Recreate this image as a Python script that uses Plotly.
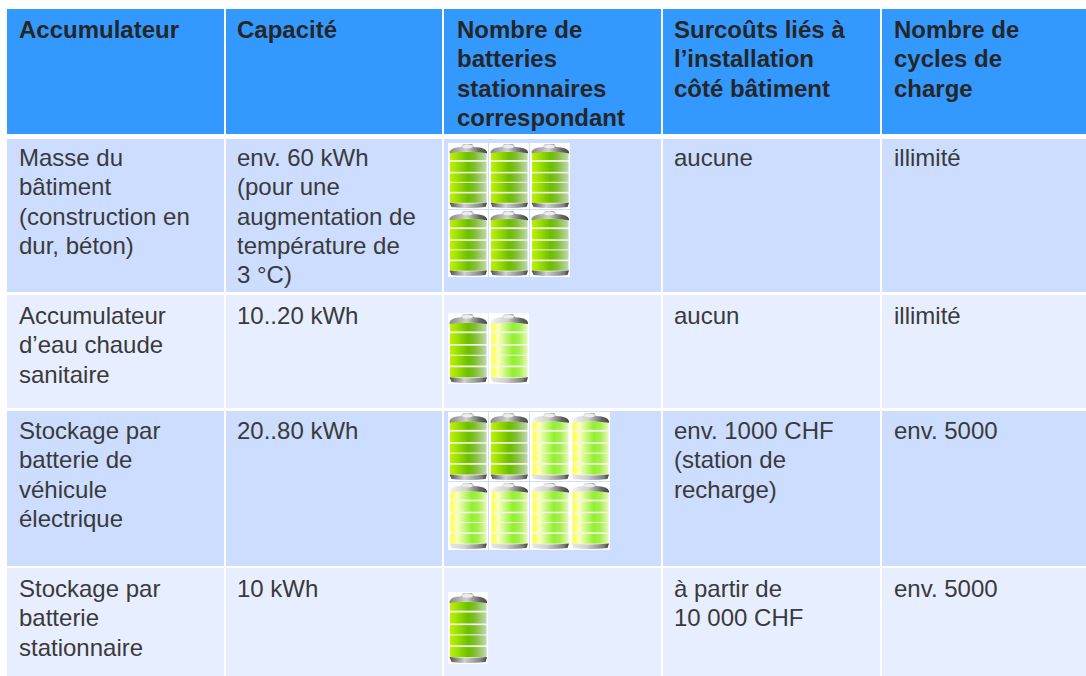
import base64
import plotly.graph_objects as go

# ---- table content ----
headers = [
    ["Accumulateur"],
    ["Capacité"],
    ["Nombre de", "batteries", "stationnaires", "correspondant"],
    ["Surcoûts liés à", "l’installation", "côté bâtiment"],
    ["Nombre de", "cycles de", "charge"],
]
col_accumulateur = [
    ["Masse du", "bâtiment", "(construction en", "dur, béton)"],
    ["Accumulateur", "d’eau chaude", "sanitaire"],
    ["Stockage par", "batterie de", "véhicule", "électrique"],
    ["Stockage par", "batterie", "stationnaire"],
]
col_capacite = [
    ["env. 60 kWh", "(pour une", "augmentation de", "température de", "3 °C)"],
    ["10..20 kWh"],
    ["20..80 kWh"],
    ["10 kWh"],
]
col_surcouts = [
    ["aucune"],
    ["aucun"],
    ["env. 1000 CHF", "(station de", "recharge)"],
    ["à partir de", "10 000 CHF"],
]
col_cycles = [
    ["illimité"],
    ["illimité"],
    ["env. 5000"],
    ["env. 5000"],
]
# battery icons per row: lines of icons, d = full colour, l = pale
col_batteries = [
    ["ddd", "ddd"],
    ["dl"],
    ["ddll", "llll"],
    ["d"],
]

# ---- layout of the table ----
W, H = 1086, 676
col_edges = [(7, 224), (226, 442), (444, 661), (663, 880), (882, 1086)]
row_edges = [(9, 134), (139, 292), (295, 408), (411, 566), (568, 676)]
text_x = [18.2, 236.4, 456, 673.4, 892.6]
line_h = 29.25
first_line = [29.5, 157.5, 315.5, 430.5, 588.5]
HEADER = "#3399FF"
ROW_DARK = "#CCDDFF"
ROW_LIGHT = "#E7EEFF"
TEXT = "#3A3A3A"
icon_x = [448, 489, 530, 570]
icon_layout = [
    ((143, 66), (210, 67)),
    ((313, 71),),
    ((412, 69), (482, 68)),
    ((592, 72),),
]


def battery_svg(kind):
    if kind == "d":
        stops = [("0", "#BCF000"), ("0.14", "#A8E600"), ("0.5", "#6CBE00"),
                 ("0.68", "#80BE30"), ("1", "#C0D8B0")]
    else:
        stops = [("0", "#FFFFD0"), ("0.03", "#FFFF50"), ("0.08", "#FFFF60"),
                 ("0.2", "#FBFFC0"), ("0.6", "#90F030"), ("0.78", "#A8F050"), ("1", "#E6F8B8")]
    g = "".join(f'<stop offset="{o}" stop-color="{c}"/>' for o, c in stops)
    bands = [(0.136, 0.26), (0.286, 0.437), (0.46, 0.588), (0.603, 0.74), (0.764, 0.905)]
    rects = "".join(
        f'<rect x="2" y="{a*68:.1f}" width="36.5" height="{(b-a)*68:.1f}" fill="url(#g)"/>'
        for a, b in bands
    )
    left_cap = "#888888" if kind == "d" else "#F4F4F4"
    left_base = "#505050" if kind == "d" else "#E8E8E8"
    svg = f'''<svg xmlns="http://www.w3.org/2000/svg" width="160" height="272" viewBox="0 0 40 68">
<defs><linearGradient id="g" x1="0" x2="1" y1="0" y2="0">{g}</linearGradient>
<linearGradient id="c" x1="0" x2="1" y1="0" y2="0"><stop offset="0" stop-color="{left_cap}"/>
<stop offset="0.45" stop-color="#D0D0D0"/><stop offset="0.8" stop-color="#686868"/><stop offset="1" stop-color="#484848"/></linearGradient>
<linearGradient id="b" x1="0" x2="1" y1="0" y2="0"><stop offset="0" stop-color="{left_base}"/>
<stop offset="0.4" stop-color="#D0D0D0"/><stop offset="0.85" stop-color="#808080"/><stop offset="1" stop-color="#404040"/></linearGradient>
<filter id="f" x="-10%" y="-10%" width="120%" height="120%"><feGaussianBlur stdDeviation="0.75"/></filter></defs>
<rect width="40" height="68" fill="#FFFFFF"/>
<g filter="url(#f)">
<rect x="2" y="8" width="36.5" height="55" fill="#F2F5E6"/>
{rects}
<path d="M1.5 9 Q2.5 4.5 13 4 L15 1 L24 1 L26 4 Q38 4.5 39 9 L39 10.5 Q20 7.5 1.5 10.5 Z" fill="url(#c)"/>
<ellipse cx="19.5" cy="3.5" rx="5.5" ry="1.8" fill="#ECECEC"/>
<path d="M1.5 61.5 Q20 63.5 39 61.5 L37.5 66 Q20 68 3.5 66 Z" fill="url(#b)"/>
</g></svg>'''
    return "data:image/svg+xml;base64," + base64.b64encode(svg.encode()).decode()


fig = go.Figure()
shapes, annotations, images = [], [], []

for r, (y0, y1) in enumerate(row_edges):
    fill = HEADER if r == 0 else (ROW_DARK if r % 2 == 1 else ROW_LIGHT)
    for x0, x1 in col_edges:
        shapes.append(dict(type="rect", x0=x0, x1=x1, y0=y0, y1=y1, fillcolor=fill,
                           line_width=0, layer="below"))


def put_lines(lines, x, y0, bold=False):
    for i, s in enumerate(lines):
        annotations.append(dict(
            x=x, y=y0 + i * line_h, text=f"<b>{s}</b>" if bold else s,
            xref="x", yref="y", xanchor="left", yanchor="middle", showarrow=False,
            align="left", borderpad=0,
            font=dict(family="Liberation Sans", size=24, color="#262626" if bold else TEXT),
        ))


for c, lines in enumerate(headers):
    put_lines(lines, text_x[c], first_line[0], bold=True)

for r in range(4):
    cells = [col_accumulateur[r], col_capacite[r], None, col_surcouts[r], col_cycles[r]]
    for c, lines in enumerate(cells):
        if lines:
            put_lines(lines, text_x[c], first_line[r + 1])
    for line, (top, height) in zip(col_batteries[r], icon_layout[r]):
        for k, kind in enumerate(line):
            images.append(dict(
                source=battery_svg(kind), xref="x", yref="y",
                x=icon_x[k], y=top, sizex=40, sizey=height,
                xanchor="left", yanchor="top", sizing="stretch", layer="above",
            ))

fig.update_layout(
    width=W, height=H, margin=dict(l=0, r=0, t=0, b=0),
    paper_bgcolor="white", plot_bgcolor="white", showlegend=False,
    xaxis=dict(range=[0, W], visible=False, fixedrange=True),
    yaxis=dict(range=[H, 0], visible=False, fixedrange=True),
    shapes=shapes, annotations=annotations, images=images,
)
fig.write_html(
    "out.html",
    config=dict(displayModeBar=False),
    post_script="document.body.style.margin='0';document.body.style.overflow='hidden';",
)
